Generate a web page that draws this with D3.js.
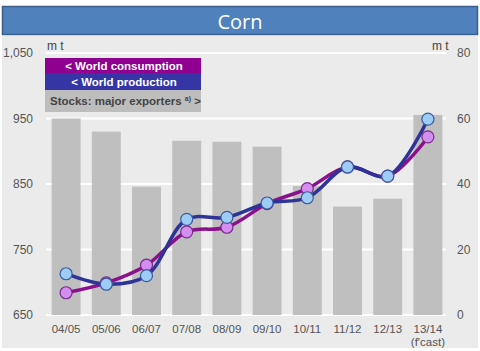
<!DOCTYPE html>
<html><head><meta charset="utf-8">
<script src="https://cdn.jsdelivr.net/npm/d3@7/dist/d3.min.js"></script>
<style>html,body{margin:0;padding:0;background:#fff;}svg{display:block;}</style>
</head><body>
<script>
const categories = ["04/05","05/06","06/07","07/08","08/09","09/10","10/11","11/12","12/13","13/14"];
const stocks = [60, 56, 39.2, 53.2, 52.9, 51.4, 39.4, 33.1, 35.5, 61.1];
const consumption = [684, 699, 726, 777, 784, 820, 843, 876, 862, 922];
const production = [713, 697, 710, 796, 799, 821, 829, 876, 862, 949];
const leftTicks = [650, 750, 850, 950, 1050];
const rightTicks = [0, 20, 40, 60, 80];

const W = 480, H = 351;
const svg = d3.select("body").append("svg").attr("width", W).attr("height", H);
const font = "Arial, 'Liberation Sans', sans-serif";

// panel
svg.append("rect").attr("x", 2).attr("y", 36).attr("width", 476).attr("height", 312).attr("fill", "#ebebeb");
// title bar
svg.append("rect").attr("x", 2.5).attr("y", 6.5).attr("width", 475).attr("height", 28)
  .attr("fill", "#4f81bd").attr("stroke", "#3a5f8b").attr("stroke-width", 1.5);
svg.append("text").attr("x", 240).attr("y", 29).attr("text-anchor", "middle")
  .attr("fill", "#fff").attr("font-family", "'Open Sans', sans-serif").attr("font-size", 20).text("Corn");

const x = d3.scaleBand().domain(categories).range([46, 448]).paddingInner(0.28).paddingOuter(0.14);
const yL = d3.scaleLinear().domain([650, 1050]).range([315, 53]);
const yR = d3.scaleLinear().domain([0, 80]).range([315, 53]);

// gridlines
svg.append("g").selectAll("line").data(leftTicks).join("line")
  .attr("x1", 46).attr("x2", 446).attr("y1", d => yL(d)).attr("y2", d => yL(d))
  .attr("stroke", "#fff").attr("stroke-width", 2);

// bars
svg.append("g").selectAll("rect").data(stocks).join("rect")
  .attr("x", (d, i) => x(categories[i])).attr("width", x.bandwidth())
  .attr("y", d => yR(d)).attr("height", d => yR(0) - yR(d)).attr("fill", "#bfbfbf");

// axes
const axL = d3.axisLeft(yL).tickValues(leftTicks).tickFormat(d3.format(",")).tickSize(0).tickPadding(0);
const gL = svg.append("g").attr("transform", "translate(33,0)").call(axL);
gL.select(".domain").remove();
gL.selectAll("text").attr("font-family", font).attr("font-size", 12).attr("fill", "#555");

const axR = d3.axisRight(yR).tickValues(rightTicks).tickSize(0).tickPadding(0);
const gR = svg.append("g").attr("transform", "translate(457,0)").call(axR);
gR.select(".domain").remove();
gR.selectAll("text").attr("font-family", font).attr("font-size", 12).attr("fill", "#555");

const axB = d3.axisBottom(x).tickSize(0).tickPadding(0);
const gB = svg.append("g").attr("transform", "translate(0,325)").call(axB);
gB.select(".domain").remove();
gB.selectAll("text").attr("font-family", font).attr("font-size", 11.5).attr("fill", "#555");
svg.append("text").attr("x", x("13/14") + x.bandwidth() / 2).attr("y", 346).attr("text-anchor", "middle")
  .attr("font-family", font).attr("font-size", 11.5).attr("fill", "#555").text("(f'cast)");

// unit labels
svg.append("text").attr("x", 47).attr("y", 50).attr("font-family", font).attr("font-size", 12).attr("fill", "#444").text("m t");
svg.append("text").attr("x", 432).attr("y", 50).attr("font-family", font).attr("font-size", 12).attr("fill", "#444").text("m t");

// lines
const line = d3.line().x((d, i) => x(categories[i]) + x.bandwidth() / 2).curve(d3.curveCatmullRom.alpha(0.5));
function drawSeries(vals, col, fill, mstroke) {
  svg.append("path").datum(vals).attr("d", line.y(d => yL(d)))
    .attr("fill", "none").attr("stroke", col).attr("stroke-width", 3.5).attr("stroke-linejoin", "round");
  svg.append("g").selectAll("circle").data(vals).join("circle")
    .attr("cx", (d, i) => x(categories[i]) + x.bandwidth() / 2).attr("cy", d => yL(d)).attr("r", 6)
    .attr("fill", fill).attr("stroke", mstroke).attr("stroke-width", 1.2);
}
drawSeries(consumption, "#8b108b", "#d48ef0", "#7a2a8a");
drawSeries(production, "#2e3397", "#9dcdf7", "#3d5aa0");

// legend
const lg = svg.append("g");
lg.append("rect").attr("x", 45).attr("y", 58).attr("width", 156).attr("height", 15).attr("fill", "#900090");
lg.append("rect").attr("x", 45).attr("y", 73).attr("width", 156).attr("height", 17).attr("fill", "#3535a5");
lg.append("rect").attr("x", 45).attr("y", 90).attr("width", 156).attr("height", 22).attr("fill", "#bdbdbd");
lg.append("text").attr("x", 124).attr("y", 70).attr("text-anchor", "middle").attr("font-family", font)
  .attr("font-weight", "bold").attr("font-size", 11.5).attr("fill", "#fff").text("< World consumption");
lg.append("text").attr("x", 124).attr("y", 86).attr("text-anchor", "middle").attr("font-family", font)
  .attr("font-weight", "bold").attr("font-size", 11.5).attr("fill", "#fff").text("< World production");
const st = lg.append("text").attr("x", 50).attr("y", 105).attr("font-family", font)
  .attr("font-weight", "bold").attr("font-size", 11.5).attr("fill", "#444");
st.append("tspan").text("Stocks: major exporters ");
st.append("tspan").attr("font-size", 7).attr("dy", -4).text("a)");
st.append("tspan").attr("dy", 4).text(" >");
</script>
</body></html>
